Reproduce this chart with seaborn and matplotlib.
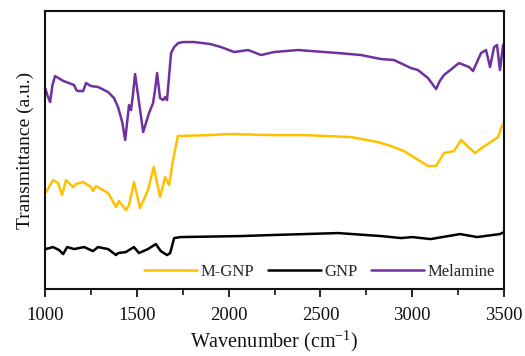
#FTIR spectra of Melamine, M-GNP and GNP
#Values (transmittance in arbitrary units)

import seaborn as sns
import matplotlib.pyplot as plt
import pandas as pd
from matplotlib.ticker import MultipleLocator

#Step 1: data
melamine_wn = [1000, 1012, 1027, 1040, 1054, 1100, 1158, 1170, 1180, 1207, 1223, 1250, 1289,
               1343, 1375, 1397, 1420, 1436, 1457, 1468, 1478, 1490, 1512, 1534, 1566, 1588,
               1600, 1610, 1626, 1643, 1654, 1664, 1686, 1703, 1725, 1752, 1812, 1900,
               1958, 2030, 2106, 2176, 2247, 2378, 2596, 2721, 2830, 2901, 2993, 3031, 3086,
               3130, 3150, 3173, 3255, 3310, 3331, 3375, 3402, 3424, 3446, 3462, 3478, 3495, 3500]
melamine_t = [212, 205, 198, 215, 224, 219, 215, 210, 209, 209, 217, 214, 213,
              208, 202, 193, 178, 160, 195, 190, 205, 226, 197, 168, 187, 197,
              212, 227, 202, 200, 203, 200, 247, 253, 257, 258, 258, 256,
              253, 248, 250, 245, 248, 250, 247, 245, 241, 240, 232, 230, 222,
              211, 219, 225, 237, 233, 229, 247, 250, 233, 253, 255, 230, 255, 256]

mgnp_wn = [1000, 1005, 1043, 1071, 1092, 1114, 1152, 1168, 1207, 1250, 1261, 1277, 1343,
           1386, 1402, 1440, 1457, 1484, 1517, 1560, 1592, 1626, 1654, 1675, 1697, 1723,
           1900, 2000, 2231, 2410, 2666, 2813, 2884, 2955, 3086, 3130, 3173, 3228, 3266,
           3342, 3386, 3468, 3484, 3500]
mgnp_t = [110, 108, 120, 117, 105, 120, 113, 116, 118, 113, 109, 114, 107,
          93, 99, 90, 95, 118, 92, 110, 133, 103, 123, 115, 140, 164,
          165, 166, 165, 165, 163, 158, 154, 149, 134, 134, 147, 149, 160,
          147, 153, 163, 172, 177]

gnp_wn = [1000, 1005, 1043, 1076, 1098, 1120, 1158, 1212, 1261, 1288, 1343, 1386, 1397,
          1440, 1457, 1484, 1511, 1560, 1603, 1630, 1664, 1681, 1703, 1739, 2065, 2231,
          2596, 2830, 2940, 3000, 3100, 3261, 3353, 3478, 3500]
gnp_t = [52, 51, 53, 50, 46, 53, 51, 53, 49, 53, 51, 45, 47,
         48, 50, 53, 47, 51, 56, 49, 45, 47, 62, 63, 64, 65,
         67, 64, 62, 63, 61, 66, 63, 66, 68]

df = pd.concat([
    pd.DataFrame({"Wavenumber": mgnp_wn, "T": mgnp_t, "Sample": "M-GNP"}),
    pd.DataFrame({"Wavenumber": gnp_wn, "T": gnp_t, "Sample": "GNP"}),
    pd.DataFrame({"Wavenumber": melamine_wn, "T": melamine_t, "Sample": "Melamine"}),
])

#Step 2: style
sns.set_style("ticks")
plt.rcParams["font.family"] = ["Liberation Serif", "DejaVu Serif"]
plt.rcParams["mathtext.fontset"] = "custom"
plt.rcParams["mathtext.rm"] = "Liberation Serif"

fig = plt.figure(figsize=(5.25, 3.56), dpi=100)
ax = fig.add_axes([0.086, 0.188, 0.874, 0.781])

palette = {"M-GNP": "#FFC000", "GNP": "#000000", "Melamine": "#7030A0"}
sns.lineplot(data=df, x="Wavenumber", y="T", hue="Sample", palette=palette,
             sort=False, estimator=None, linewidth=1.8, ax=ax)
for line in ax.get_lines():
    line.set_solid_joinstyle("round")

ax.set_xlim(1000, 3500)
ax.set_ylim(11, 289)
ax.set_yticks([])
ax.xaxis.set_major_locator(MultipleLocator(500))
ax.xaxis.set_minor_locator(MultipleLocator(250))
ax.tick_params(axis="x", which="major", direction="out", length=6, width=1.3,
               labelsize=13.5, pad=7, colors="#111111")
ax.tick_params(axis="x", which="minor", direction="out", length=4, width=1.3)
for s in ax.spines.values():
    s.set_visible(True)
    s.set_linewidth(1.5)
    s.set_color("#111111")

ax.set_xlabel("Wavenumber (cm$^{\\mathrm{-1}}$)", fontsize=14.5, color="#111111", labelpad=3)
ax.set_ylabel("Transmittance (a.u.)", fontsize=14, color="#111111", labelpad=8)

leg = ax.legend(loc="lower right", ncol=3, frameon=False, fontsize=12,
                handlelength=3.2, columnspacing=0.8, handletextpad=0.2,
                borderaxespad=0.15)
for line in leg.get_lines():
    line.set_linewidth(1.8)

fig.savefig("out.png", dpi=100)
